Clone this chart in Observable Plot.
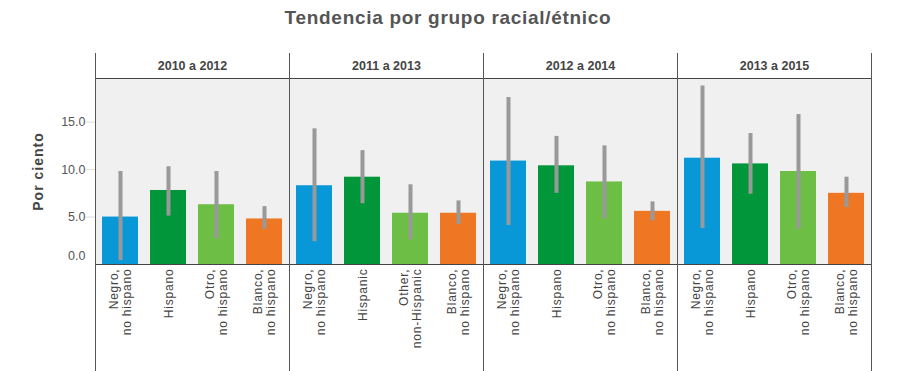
<!DOCTYPE html>
<html><head><meta charset="utf-8">
<script src="https://cdn.jsdelivr.net/npm/d3@7"></script>
<script src="https://cdn.jsdelivr.net/npm/@observablehq/plot@0.6"></script>
<style>
body{margin:0;background:#fff;font-family:"Liberation Sans",Arial,sans-serif;}
#title{height:40px;box-sizing:border-box;padding-top:7px;padding-right:8px;text-align:center;font-size:19px;font-weight:bold;letter-spacing:0.7px;color:#555;line-height:22px;}
.xl text{letter-spacing:0.8px;}
g[aria-label="y-axis label"] text{font-weight:bold;font-size:14px;letter-spacing:1px;fill:#444;}
</style></head><body>
<div id="title">Tendencia por grupo racial/étnico</div>
<div id="chart"></div>
<script>
const periods = ["2010 a 2012", "2011 a 2013", "2012 a 2014", "2013 a 2015"];
const groups = ["negro", "hispano", "otro", "blanco"];
const labels = [
  ["Negro,\nno hispano", "Hispano", "Otro,\nno hispano", "Blanco,\nno hispano"],
  ["Negro,\nno hispano", "Hispanic", "Other,\nnon-Hispanic", "Blanco,\nno hispano"],
  ["Negro,\nno hispano", "Hispano", "Otro,\nno hispano", "Blanco,\nno hispano"],
  ["Negro,\nno hispano", "Hispano", "Otro,\nno hispano", "Blanco,\nno hispano"]
];
const values = [
  [5.0, 7.8, 6.3, 4.8],
  [8.3, 9.2, 5.4, 5.4],
  [10.9, 10.4, 8.7, 5.6],
  [11.2, 10.6, 9.8, 7.5]
];
const lower = [
  [0.4, 5.1, 2.7, 3.7],
  [2.4, 6.4, 2.6, 4.2],
  [4.1, 7.5, 4.8, 4.6],
  [3.8, 7.4, 3.7, 6.0]
];
const upper = [
  [9.8, 10.3, 9.8, 6.1],
  [14.3, 12.0, 8.4, 6.7],
  [17.6, 13.5, 12.5, 6.6],
  [18.8, 13.8, 15.8, 9.2]
];
const yTicks = [5, 10, 15];
const colors = ["#0898d8", "#009639", "#6cbe45", "#ef7622"];

const data = [];
periods.forEach((p, i) => groups.forEach((g, j) => data.push({
  period: p, group: g, label: labels[i][j], value: values[i][j], lo: lower[i][j], hi: upper[i][j]
})));

const chart = Plot.plot({
  width: 904, height: 331,
  marginTop: 38, marginBottom: 107, marginLeft: 94, marginRight: 32,
  style: {fontFamily: "'Liberation Sans', Arial, sans-serif", color: "#444", background: "#fff"},
  fx: {domain: periods, padding: 0, label: null},
  x: {domain: groups, paddingInner: 0.25, paddingOuter: 0.125, axis: null},
  y: {domain: [0, 19.6], axis: null},
  color: {domain: groups, range: colors},
  marks: [
    Plot.frame({fill: "#f0f0f0", stroke: null}),
    Plot.barY(data, {fx: "period", x: "group", y: "value", fill: "group"}),
    Plot.ruleX(data, {fx: "period", x: "group", y1: "lo", y2: "hi", stroke: "#999", strokeWidth: 4}),
    Plot.text(data, {fx: "period", x: "group", text: "label", frameAnchor: "bottom", rotate: -90,
      textAnchor: "end", lineAnchor: "middle", lineHeight: 1.1, dy: 4, fontSize: 12, fill: "#444", className: "xl"}),
    Plot.frame({anchor: "top", stroke: "#444"}),
    Plot.frame({anchor: "bottom", stroke: "#444"}),
    Plot.frame({anchor: "left", stroke: "#555", insetTop: -25, insetBottom: -107}),
    Plot.frame({anchor: "right", stroke: "#555", insetTop: -25, insetBottom: -107}),
    Plot.axisFx({anchor: "top", tickSize: 0, tickPadding: 9, fontSize: 12.5, fontWeight: "bold", label: null, fill: "#444"}),
    Plot.axisY(yTicks, {tickSize: 9, tickPadding: 1, stroke: "#ddd", tickFormat: ".1f", fontSize: 12.5, fill: "#555",
      label: "Por ciento", labelAnchor: "center", labelOffset: 62, labelArrow: "none"}),
    Plot.axisY([0], {tickSize: 0, tickPadding: 10, tickFormat: ".1f", fontSize: 12.5, fill: "#555", dy: -9, label: null})
  ]
});
document.getElementById("chart").appendChild(chart);
</script>
</body></html>
